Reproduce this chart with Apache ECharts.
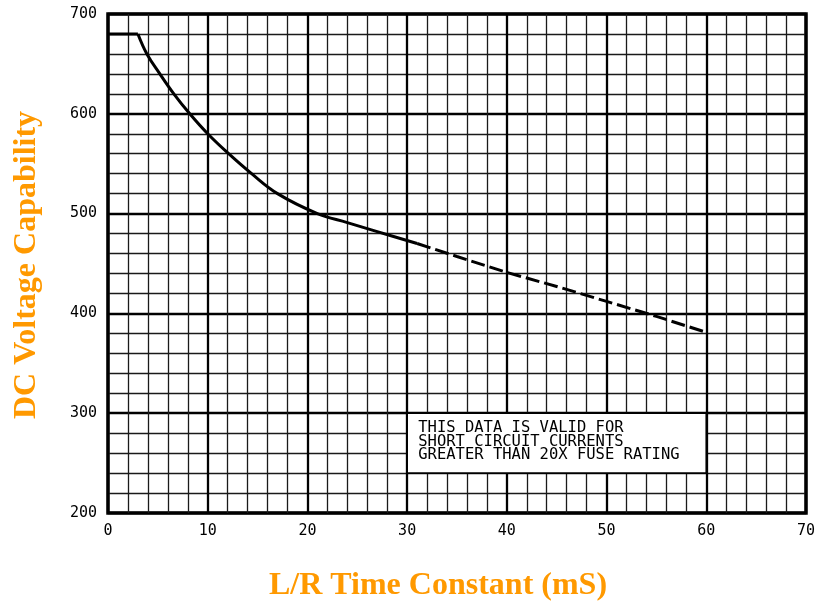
<!DOCTYPE html>
<html>
<head>
<meta charset="utf-8">
<script src="https://cdn.jsdelivr.net/npm/echarts@6/dist/echarts.min.js"></script>
<style>
html,body{margin:0;padding:0;background:#fff;}
#c{width:828px;height:603px;}
</style>
</head>
<body>
<div id="c"></div>
<script>
// Data
const xFlat = [0, 3];
const yFlat = [680, 680];
const xSolid = [3, 3.9, 5.2, 6.6, 8.2, 10, 12.1, 14.4, 17, 21, 24, 27, 31];
const ySolid = [680, 660, 640, 620, 600, 580, 560, 540, 520, 500, 491, 482, 470];
const xDashed = [31, 35, 40, 45, 50, 55, 60];
const yDashed = [470, 457, 441, 427, 412, 397, 381];
const xTicks = [0, 10, 20, 30, 40, 50, 60, 70];
const yTicks = [200, 300, 400, 500, 600, 700];
const noteLines = ['THIS DATA IS VALID FOR', 'SHORT CIRCUIT CURRENTS', 'GREATER THAN 20X FUSE RATING'];
const xTitle = 'L/R Time Constant (mS)';
const yTitle = 'DC Voltage Capability';

const chart = echarts.init(document.getElementById('c'), null, {renderer: 'canvas'});
const cadFont = '"DejaVu Sans Mono", "Liberation Mono", monospace';
const orange = '#FF9900';

const axisCommon = {
  type: 'value',
  axisLine: {show: false},
  axisTick: {show: false},
  splitLine: {show: true, lineStyle: {color: '#000', width: 2.3}},
  minorTick: {show: false, splitNumber: 5},
  minorSplitLine: {show: true, lineStyle: {color: '#1a1a1a', width: 1.3}},
  axisLabel: {color: '#000', fontFamily: cadFont, fontSize: 15}
};

const option = {
  animation: false,
  backgroundColor: '#fff',
  grid: {left: 108, right: 22, top: 14, bottom: 90, show: true, borderColor: '#000', borderWidth: 3.5, backgroundColor: 'transparent'},
  xAxis: Object.assign({}, axisCommon, {
    min: xTicks[0], max: xTicks[xTicks.length - 1], interval: 10,
    axisLabel: Object.assign({}, axisCommon.axisLabel, {margin: 11})
  }),
  yAxis: Object.assign({}, axisCommon, {
    min: yTicks[0], max: yTicks[yTicks.length - 1], interval: 100,
    axisLabel: Object.assign({}, axisCommon.axisLabel, {margin: 11})
  }),
  series: [
    {
      type: 'line',
      data: xFlat.map((x, i) => [x, yFlat[i]]),
      showSymbol: false,
      lineStyle: {color: '#000', width: 3},
      z: 5
    },
    {
      type: 'line',
      data: xSolid.map((x, i) => [x, ySolid[i]]),
      showSymbol: false,
      smooth: 0.4,
      lineStyle: {color: '#000', width: 3},
      z: 5,
      markArea: {
        silent: true,
        itemStyle: {color: '#fff', borderColor: '#000', borderWidth: 1.7},
        label: {
          show: true,
          position: [12, 9],
          formatter: noteLines.join('\n'),
          fontFamily: cadFont,
          fontSize: 15.5,
          lineHeight: 13.5,
          color: '#000',
          align: 'left',
          verticalAlign: 'top'
        },
        data: [[{coord: [30, 300]}, {coord: [60, 240]}]]
      }
    },
    {
      type: 'line',
      data: xDashed.map((x, i) => [x, yDashed[i]]),
      showSymbol: false,
      lineStyle: {color: '#000', width: 3, type: [14, 5]},
      z: 5
    }
  ],
  graphic: [
    {
      type: 'text', x: 438, y: 586,
      style: {text: xTitle, fill: orange, font: 'bold 32px "Liberation Serif", "Times New Roman", serif', align: 'center', verticalAlign: 'middle'}
    },
    {
      type: 'text', x: 27, y: 265, rotation: Math.PI / 2,
      style: {text: yTitle, fill: orange, font: 'bold 32px "Liberation Serif", "Times New Roman", serif', align: 'center', verticalAlign: 'middle'}
    }
  ]
};
chart.setOption(option);
</script>
</body>
</html>
